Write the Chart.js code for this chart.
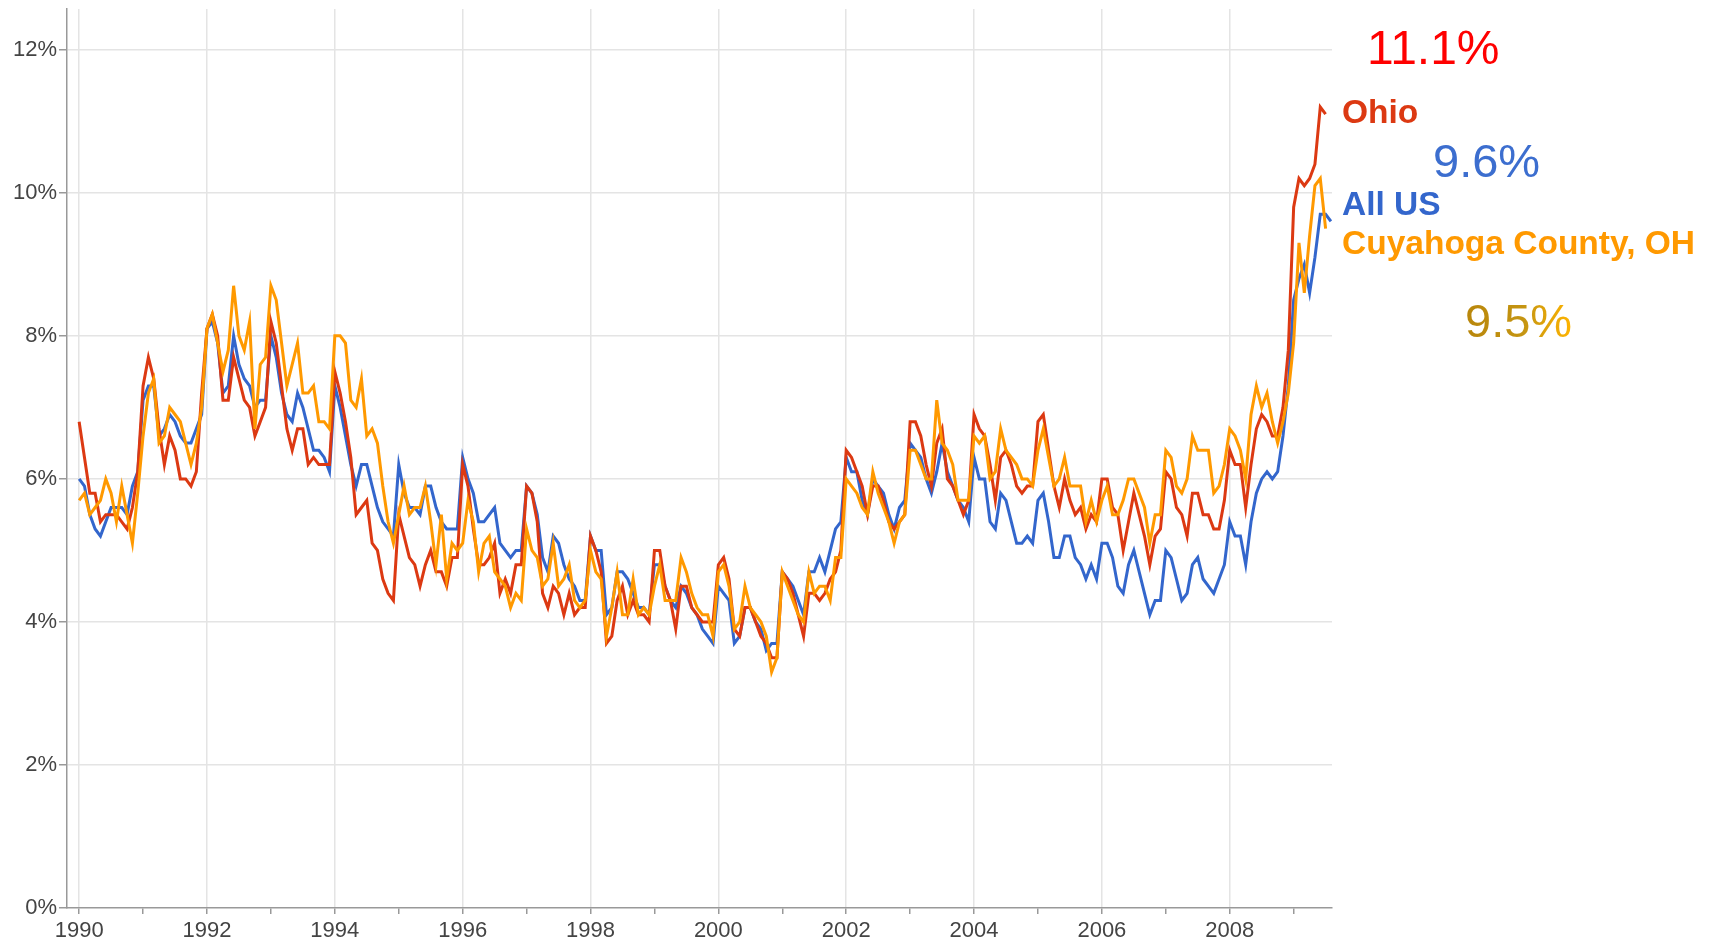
<!DOCTYPE html>
<html>
<head>
<meta charset="utf-8">
<title>Unemployment rate: Ohio, All US, Cuyahoga County</title>
<script src="https://cdn.jsdelivr.net/npm/chart.js@4.4.1/dist/chart.umd.min.js"></script>
<style>
  html, body { margin: 0; padding: 0; background: #fff; }
  #wrap { position: relative; width: 1716px; height: 942px; overflow: hidden; }
  #chart { position: absolute; left: 0; top: 0; }
  .note { position: absolute; white-space: nowrap; line-height: 1; font-family: "Liberation Sans", Arial, sans-serif; }
  .big { font-weight: normal; }
  .name { font-weight: bold; font-size: 33.5px; }
  .grad {
    background: linear-gradient(to right, #b8860b 0%, #c59512 55%, #ffb400 100%);
    -webkit-background-clip: text; background-clip: text; color: transparent;
  }
</style>
</head>
<body>
<div id="wrap">
  <canvas id="chart" width="1716" height="942"></canvas>
  <div class="note big" style="left:1367px; top:24px; font-size:48px; color:#ff0000;">11.1%</div>
  <div class="note name" style="left:1342px; top:95px; color:#dc3912;">Ohio</div>
  <div class="note big" style="left:1433px; top:137px; font-size:47px; color:#3c6ecf;">9.6%</div>
  <div class="note name" style="left:1342px; top:187px; color:#3366cc;">All US</div>
  <div class="note name" style="left:1342px; top:226px; color:#ff9900;">Cuyahoga County, OH</div>
  <div class="note big grad" style="left:1465px; top:297px; font-size:47px;">9.5%</div>
</div>
<script>
// monthly unemployment rate (%), starting January 1990
const ohio = [
  6.8, 6.3, 5.8, 5.8, 5.4, 5.5, 5.5, 5.5, 5.4, 5.3, 5.6, 6.1,
  7.3, 7.7, 7.4, 6.7, 6.2, 6.6, 6.4, 6.0, 6.0, 5.9, 6.1, 7.2,
  8.1, 8.3, 8.0, 7.1, 7.1, 7.7, 7.4, 7.1, 7.0, 6.6, 6.8, 7.0,
  8.2, 7.9, 7.3, 6.7, 6.4, 6.7, 6.7, 6.2, 6.3, 6.2, 6.2, 6.2,
  7.5, 7.2, 6.8, 6.3, 5.5, 5.6, 5.7, 5.1, 5.0, 4.6, 4.4, 4.3,
  5.5, 5.2, 4.9, 4.8, 4.5, 4.8, 5.0, 4.7, 4.7, 4.5, 4.9, 4.9,
  6.2, 5.9, 5.3, 4.8, 4.8, 4.9, 5.1, 4.4, 4.6, 4.4, 4.8, 4.8,
  5.9, 5.8, 5.4, 4.4, 4.2, 4.5, 4.4, 4.1, 4.4, 4.1, 4.2, 4.2,
  5.2, 5.0, 4.7, 3.7, 3.8, 4.3, 4.5, 4.1, 4.3, 4.1, 4.1, 4.0,
  5.0, 5.0, 4.5, 4.3, 3.9, 4.5, 4.5, 4.2, 4.1, 4.0, 4.0, 4.0,
  4.8, 4.9, 4.6, 3.9, 3.8, 4.2, 4.2, 4.0, 3.8, 3.7, 3.5, 3.5,
  4.7, 4.6, 4.4, 4.1, 3.8, 4.4, 4.4, 4.3, 4.4, 4.6, 4.7, 5.0,
  6.4, 6.3, 6.1, 5.9, 5.5, 5.9, 5.9, 5.7, 5.4, 5.3, 5.4, 5.5,
  6.8, 6.8, 6.6, 6.2, 5.9, 6.5, 6.7, 6.0, 5.9, 5.7, 5.5, 5.7,
  6.9, 6.7, 6.6, 6.2, 5.7, 6.3, 6.4, 6.2, 5.9, 5.8, 5.9, 5.9,
  6.8, 6.9, 6.4, 5.9, 5.6, 6.0, 5.7, 5.5, 5.6, 5.3, 5.5, 5.4,
  6.0, 6.0, 5.6, 5.5, 5.0, 5.4, 5.8, 5.5, 5.2, 4.8, 5.2, 5.3,
  6.1, 6.0, 5.6, 5.5, 5.2, 5.8, 5.8, 5.5, 5.5, 5.3, 5.3, 5.7,
  6.4, 6.2, 6.2, 5.6, 6.2, 6.7, 6.9, 6.8, 6.6, 6.6, 7.0, 7.8,
  9.8, 10.2, 10.1, 10.2, 10.4, 11.2, 11.1
];

const allUS = [
  6.0, 5.9, 5.5, 5.3, 5.2, 5.4, 5.6, 5.6, 5.6, 5.5, 5.9, 6.1,
  7.1, 7.3, 7.3, 6.6, 6.7, 6.9, 6.8, 6.6, 6.5, 6.5, 6.7, 6.9,
  8.1, 8.2, 7.9, 7.2, 7.3, 8.0, 7.6, 7.4, 7.3, 7.0, 7.1, 7.1,
  8.0, 7.7, 7.2, 6.9, 6.8, 7.2, 7.0, 6.7, 6.4, 6.4, 6.3, 6.1,
  7.3, 7.0, 6.6, 6.2, 5.9, 6.2, 6.2, 5.9, 5.6, 5.4, 5.3, 5.2,
  6.2, 5.8, 5.6, 5.6, 5.5, 5.9, 5.9, 5.6, 5.4, 5.3, 5.3, 5.3,
  6.3, 6.0, 5.8, 5.4, 5.4, 5.5, 5.6, 5.1, 5.0, 4.9, 5.0, 5.0,
  5.9, 5.8, 5.5, 4.9, 4.7, 5.2, 5.1, 4.8, 4.6, 4.5, 4.3, 4.3,
  5.2, 5.0, 5.0, 4.1, 4.2, 4.7, 4.7, 4.6, 4.4, 4.2, 4.2, 4.1,
  4.8, 4.8, 4.5, 4.3, 4.2, 4.5, 4.4, 4.2, 4.1, 3.9, 3.8, 3.7,
  4.5, 4.4, 4.3, 3.7, 3.8, 4.2, 4.2, 4.0, 3.9, 3.6, 3.7, 3.7,
  4.7, 4.6, 4.5, 4.3, 4.1, 4.7, 4.7, 4.9, 4.7, 5.0, 5.3, 5.4,
  6.3, 6.1, 6.1, 5.7, 5.5, 6.0, 5.9, 5.8, 5.5, 5.3, 5.6, 5.7,
  6.5, 6.4, 6.3, 6.0, 5.8, 6.1, 6.5, 6.1, 5.9, 5.7, 5.6, 5.4,
  6.3, 6.0, 6.0, 5.4, 5.3, 5.8, 5.7, 5.4, 5.1, 5.1, 5.2, 5.1,
  5.7, 5.8, 5.4, 4.9, 4.9, 5.2, 5.2, 4.9, 4.8, 4.6, 4.8, 4.6,
  5.1, 5.1, 4.9, 4.5, 4.4, 4.8, 5.0, 4.7, 4.4, 4.1, 4.3, 4.3,
  5.0, 4.9, 4.6, 4.3, 4.4, 4.8, 4.9, 4.6, 4.5, 4.4, 4.6, 4.8,
  5.4, 5.2, 5.2, 4.8, 5.4, 5.8, 6.0, 6.1, 6.0, 6.1, 6.6, 7.3,
  8.5, 8.8, 9.0, 8.6, 9.1, 9.7, 9.7, 9.6
];

const cuyahoga = [
  5.7, 5.8, 5.5, 5.6, 5.7, 6.0, 5.8, 5.4, 5.9, 5.5, 5.1, 5.8,
  6.6, 7.2, 7.4, 6.5, 6.6, 7.0, 6.9, 6.8, 6.5, 6.2, 6.5, 7.0,
  8.1, 8.3, 7.9, 7.5, 7.8, 8.7, 8.0, 7.8, 8.2, 6.7, 7.6, 7.7,
  8.7, 8.5, 7.9, 7.3, 7.6, 7.9, 7.2, 7.2, 7.3, 6.8, 6.8, 6.7,
  8.0, 8.0, 7.9, 7.1, 7.0, 7.4, 6.6, 6.7, 6.5, 5.9, 5.4, 5.1,
  5.5, 5.9, 5.5, 5.6, 5.6, 5.9, 5.4, 4.8, 5.5, 4.6, 5.1, 5.0,
  5.1, 5.7, 5.4, 4.7, 5.1, 5.2, 4.7, 4.6, 4.5, 4.2, 4.4, 4.3,
  5.3, 5.0, 4.9, 4.5, 4.6, 5.1, 4.5, 4.6, 4.8, 4.3, 4.2, 4.3,
  5.0, 4.7, 4.6, 3.8, 4.2, 4.7, 4.1, 4.1, 4.6, 4.1, 4.2, 4.1,
  4.5, 4.8, 4.3, 4.3, 4.3, 4.9, 4.7, 4.4, 4.2, 4.1, 4.1, 3.8,
  4.7, 4.8, 4.5, 3.9, 4.0, 4.5, 4.2, 4.1, 4.0, 3.8, 3.3, 3.5,
  4.7, 4.5, 4.3, 4.1, 4.0, 4.7, 4.4, 4.5, 4.5, 4.3, 4.9, 4.9,
  6.0, 5.9, 5.8, 5.6, 5.5, 6.1, 5.8, 5.6, 5.4, 5.1, 5.4, 5.5,
  6.4, 6.4, 6.2, 6.0, 6.0, 7.1, 6.5, 6.4, 6.2, 5.7, 5.7, 5.7,
  6.6, 6.5, 6.6, 6.0, 6.1, 6.7, 6.4, 6.3, 6.2, 6.0, 6.0, 5.9,
  6.4, 6.7, 6.3, 5.9, 6.0, 6.3, 5.9, 5.9, 5.9, 5.4, 5.7, 5.4,
  5.7, 5.9, 5.5, 5.5, 5.7, 6.0, 6.0, 5.8, 5.6, 5.1, 5.5, 5.5,
  6.4, 6.3, 5.9, 5.8, 6.0, 6.6, 6.4, 6.4, 6.4, 5.8, 5.9, 6.2,
  6.7, 6.6, 6.4, 6.0, 6.9, 7.3, 7.0, 7.2, 6.8, 6.5, 6.8, 7.2,
  7.9, 9.3, 8.6, 9.4, 10.1, 10.2, 9.5
];

const years = [1990, 1991, 1992, 1993, 1994, 1995, 1996, 1997, 1998, 1999,
               2000, 2001, 2002, 2003, 2004, 2005, 2006, 2007, 2008, 2009];
const percentTicks = [0, 2, 4, 6, 8, 10, 12];

const font = "'Liberation Sans', Arial, sans-serif";
const gridColor = "#e4e4e4";
const axisColor = "#999999";

// month i -> fractional year on the linear x axis
function monthly(values) {
  return values.map((v, i) => ({ x: 1990 + i / 12, y: v }));
}

const ctx = document.getElementById("chart").getContext("2d");

new Chart(ctx, {
  type: "line",
  data: {
    datasets: [
      { label: "Cuyahoga County, OH", data: monthly(cuyahoga), borderColor: "#ff9900" },
      { label: "Ohio", data: monthly(ohio), borderColor: "#dc3912" },
      { label: "All US", data: monthly(allUS), borderColor: "#3366cc" }
    ]
  },
  options: {
    responsive: false,
    animation: false,
    layout: { padding: { left: 0, top: 9, right: 384, bottom: 0 } },
    elements: {
      line: { borderWidth: 3, tension: 0, fill: false },
      point: { radius: 0 }
    },
    plugins: {
      legend: { display: false },
      tooltip: { enabled: false }
    },
    scales: {
      x: {
        type: "linear",
        min: 1989.81,
        max: 2009.6,
        afterBuildTicks: scale => { scale.ticks = years.map(v => ({ value: v })); },
        afterFit: scale => {
          scale.height = 34;
          scale.paddingLeft = 0;
          scale.paddingRight = 0;
        },
        ticks: {
          autoSkip: false,
          maxRotation: 0,
          padding: 4,
          color: "#444",
          font: { family: font, size: 22 },
          callback: v => (v % 2 === 0 ? String(v) : "")
        },
        grid: {
          color: c => (c.tick && c.tick.value % 2 === 0 ? gridColor : "rgba(0,0,0,0)"),
          lineWidth: 1.5,
          tickColor: axisColor,
          tickLength: 6
        },
        border: { color: axisColor, width: 1.5 }
      },
      y: {
        min: 0,
        max: 12.57,
        afterBuildTicks: scale => { scale.ticks = percentTicks.map(v => ({ value: v })); },
        afterFit: scale => {
          scale.width = 67;
          scale.paddingTop = 0;
          scale.paddingBottom = 0;
        },
        ticks: {
          padding: 2,
          color: "#444",
          font: { family: font, size: 22 },
          callback: v => v + "%"
        },
        grid: {
          color: c => (c.tick && c.tick.value === 0 ? "rgba(0,0,0,0)" : gridColor),
          lineWidth: 1.5,
          tickColor: axisColor,
          tickLength: 8
        },
        border: { color: axisColor, width: 1.5 }
      }
    }
  }
});
</script>
</body>
</html>
